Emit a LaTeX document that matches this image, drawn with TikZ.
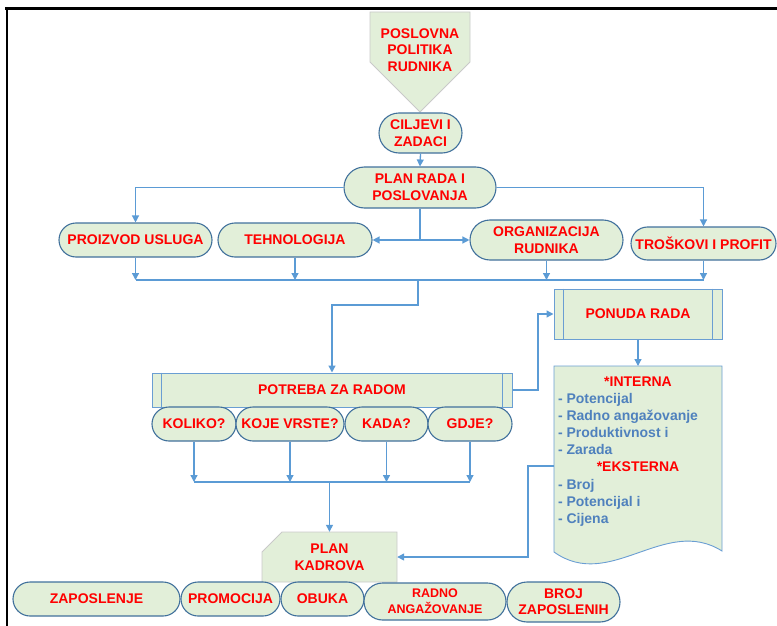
\documentclass[tikz,border=0pt]{standalone}
\usepackage{fontspec}
\setmainfont{Liberation Sans}
\usetikzlibrary{arrows.meta,shapes.misc}
\definecolor{fillg}{HTML}{E2EFD9}
\definecolor{bord}{HTML}{41719C}
\definecolor{cblue}{HTML}{5B9BD5}
\definecolor{lbord}{HTML}{6A9ED3}
\definecolor{gbord}{HTML}{C9C9C9}
\definecolor{txtred}{HTML}{FF0000}
\definecolor{txtblue}{HTML}{4F81BD}
\pgfdeclarelayer{bg}
\pgfsetlayers{bg,main}
\tikzset{
  lbl/.style={font=\fontsize{14}{16.7}\selectfont\bfseries, text=txtred, align=center, inner sep=0pt},
  pill/.style={lbl, shape=rounded rectangle, draw=bord, fill=fillg, line width=1.1pt},
  proc/.style={lbl, shape=rectangle, draw=lbord, fill=fillg, line width=1pt},
  wire/.style={draw=cblue, line width=1.3pt},
  arr/.style={wire, -{Triangle[length=7pt,width=7pt]}},
}
\begin{document}
\begin{tikzpicture}[x=1pt,y=-1pt]
\useasboundingbox (0,0) rectangle (777,626);
% frame
\draw[line width=2.5pt] (5,8.5) -- (777,8.5);
\draw[line width=2pt] (7,8) -- (7,626);

% top pentagon
\begin{pgfonlayer}{bg}
\path[fill=fillg, draw=gbord, line width=0.8pt] (370,12) -- (470,12) -- (470,62) -- (420,112) -- (370,62) -- cycle;
\end{pgfonlayer}
\node[lbl] (pol) at (420,50) {POSLOVNA\\POLITIKA\\RUDNIKA};

\node[pill, minimum width=83pt, minimum height=40pt] (cilj) at (420.5,133) {CILJEVI I\\ZADACI};
\node[pill, minimum width=152pt, minimum height=41pt] (plan) at (420,187.5) {PLAN RADA I\\POSLOVANJA};
\node[pill, minimum width=153pt, minimum height=34pt] (proiz) at (135.5,240) {PROIZVOD USLUGA};
\node[pill, minimum width=154pt, minimum height=34pt] (tehno) at (295,240) {TEHNOLOGIJA};
\node[pill, minimum width=153pt, minimum height=40pt] (org) at (546.5,240) {ORGANIZACIJA\\RUDNIKA};
\node[pill, minimum width=145pt, minimum height=33pt] (tros) at (703.5,243.5) {TROŠKOVI I PROFIT};

\node[proc, minimum width=360pt, minimum height=34pt] (potreba) at (332,390) {POTREBA ZA RADOM};
\node[proc, minimum width=168pt, minimum height=50pt] (ponuda) at (638,314) {PONUDA RADA};
\foreach \n in {potreba,ponuda}{
  \draw[lbord, line width=1pt] ([xshift=10pt]\n.north west) -- ([xshift=10pt]\n.south west);
  \draw[lbord, line width=1pt] ([xshift=-10pt]\n.north east) -- ([xshift=-10pt]\n.south east);
}

\node[pill, minimum width=84pt, minimum height=34pt] (koliko) at (194,424) {KOLIKO?};
\node[pill, minimum width=108pt, minimum height=34pt] (koje) at (290,424) {KOJE VRSTE?};
\node[pill, minimum width=83pt, minimum height=34pt] (kada) at (386.5,424) {KADA?};
\node[pill, minimum width=84pt, minimum height=34pt] (gdje) at (470,424) {GDJE?};

% document shape
\begin{pgfonlayer}{bg}
\path[fill=fillg, draw=lbord, line width=0.9pt] (554,366) -- (722,366) -- (722,551) .. controls (665,515) and (610,592) .. (554,552) -- cycle;
\end{pgfonlayer}
\coordinate (docN) at (638,366);
\coordinate (docW) at (554,466);
\node[lbl, font=\fontsize{14}{17.1}\selectfont\bfseries, text=txtblue] (doc) at (638,451.5) {%
  \textcolor{txtred}{*INTERNA}\\
  \makebox[160pt][l]{- Potencijal}\\
  \makebox[160pt][l]{- Radno angažovanje}\\
  \makebox[160pt][l]{- Produktivnost i}\\
  \makebox[160pt][l]{- Zarada}\\
  \textcolor{txtred}{*EKSTERNA}\\
  \makebox[160pt][l]{- Broj}\\
  \makebox[160pt][l]{- Potencijal i}\\
  \makebox[160pt][l]{- Cijena}};

% plan kadrova
\begin{pgfonlayer}{bg}
\path[fill=fillg, draw=gbord, line width=0.8pt] (282,532) -- (397,532) -- (397,582) -- (262,582) -- (262,552) -- cycle;
\end{pgfonlayer}
\node[lbl, minimum width=135pt, minimum height=50pt] (kadrova) at (329.5,557) {PLAN\\KADROVA};

% bottom row
\node[pill, minimum width=167pt, minimum height=34pt] (zap) at (96.5,599) {ZAPOSLENJE};
\node[pill, minimum width=99pt, minimum height=34pt] (promo) at (230.5,599) {PROMOCIJA};
\node[pill, minimum width=83pt, minimum height=34pt] (obuka) at (322.5,599) {OBUKA};
\node[pill, minimum width=142pt, minimum height=37pt, font=\fontsize{12.5}{16}\selectfont\bfseries] (radno) at (435,601.5) {RADNO\\ANGAŽOVANJE};
\node[pill, minimum width=113pt, minimum height=40pt, font=\fontsize{14}{16}\selectfont\bfseries] (broj) at (563.5,602) {BROJ\\ZAPOSLENIH};

% connectors
\draw[arr] (cilj.south) -- (plan.north);
\draw[arr] (plan.west) -| (proiz.north);
\draw[arr] (plan.east) -| (tros.north);
\coordinate (j1) at (plan.south |- tehno.east);
\draw[wire] (plan.south) -- (j1);
\draw[arr] (j1) -- (tehno.east);
\draw[arr] (j1) -- (org.west);
\coordinate (bus1) at (0,280);
\draw[wire] (proiz.south |- bus1) -- (tros.south |- bus1);
\foreach \n in {proiz,tehno,org,tros}{\draw[arr] (\n.south) -- (\n.south |- bus1);}
\coordinate (b1m) at (418,280);
\draw[arr] (b1m) -- (418,305) -| (potreba.north);
\draw[arr] (potreba.east) -- (538,390) |- (ponuda.west);
\draw[arr] (ponuda.south) -- (docN);
\draw[arr] (docW) -- (528,466) |- (kadrova.east);
\coordinate (bus2) at (0,482);
\foreach \n in {koliko,koje,kada,gdje}{\draw[arr] (\n.south) -- (\n.south |- bus2);}
\draw[wire] (koliko.south |- bus2) -- (gdje.south |- bus2);
\draw[arr] (kadrova.north |- bus2) -- (kadrova.north);
\end{tikzpicture}
\end{document}
